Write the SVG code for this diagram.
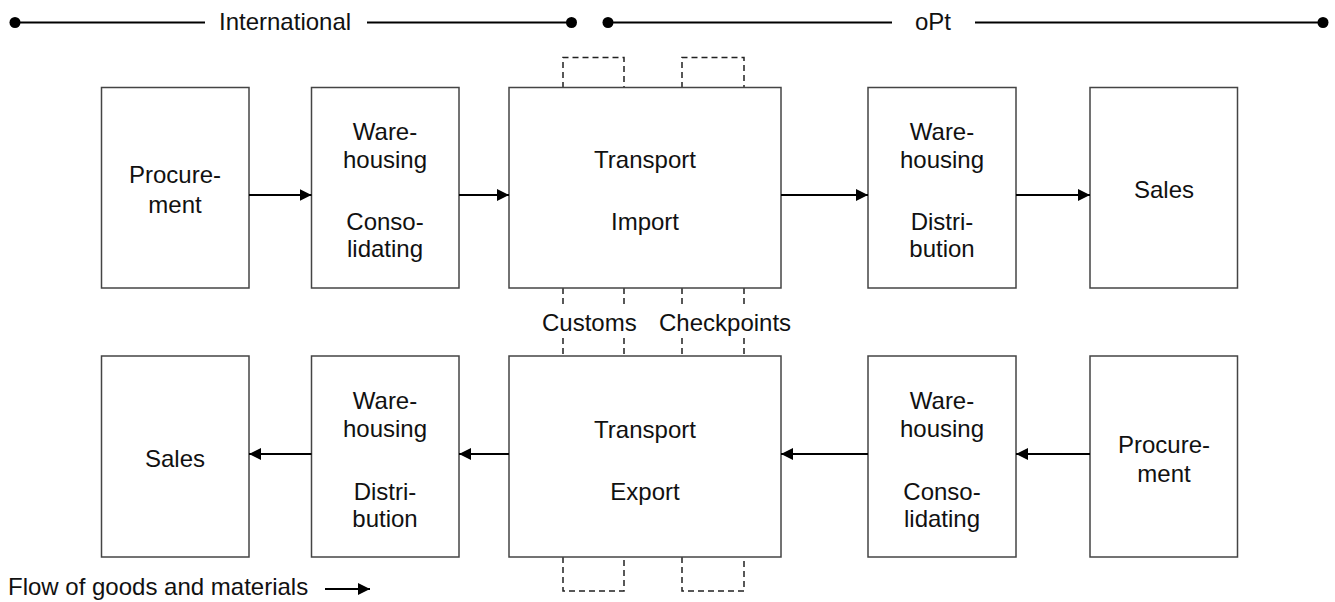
<svg xmlns="http://www.w3.org/2000/svg" width="1335" height="602" viewBox="0 0 1335 602">
<style>
  text { font-family: "Liberation Sans", Arial, sans-serif; font-size: 24px; fill: #111; }
  .c { text-anchor: middle; }
  .box { fill: #fff; stroke: #444; stroke-width: 1.5; }
  .arr { stroke: #000; stroke-width: 2; fill: none; marker-end: url(#ah); }
  .rule { stroke: #000; stroke-width: 2; fill: none; }
  .dash { stroke: #222; stroke-width: 1.5; fill: none; stroke-dasharray: 6 4; }
</style>
<defs>
  <marker id="ah" markerUnits="userSpaceOnUse" markerWidth="14" markerHeight="12" refX="12" refY="6" orient="auto">
    <path d="M0,0 L12,6 L0,12 Z" fill="#000"/>
  </marker>
</defs>
<rect width="1335" height="602" fill="#fff"/>

<g id="scope-international">
  <line class="rule" x1="15" y1="22.5" x2="205" y2="22.5"/>
  <line class="rule" x1="367" y1="22.5" x2="571" y2="22.5"/>
  <circle cx="15" cy="22.5" r="5.5" fill="#000"/>
  <circle cx="571.5" cy="22.5" r="5.5" fill="#000"/>
  <text x="219" y="30">International</text>
</g>
<g id="scope-opt">
  <line class="rule" x1="608" y1="22.5" x2="892" y2="22.5"/>
  <line class="rule" x1="975" y1="22.5" x2="1323" y2="22.5"/>
  <circle cx="608" cy="22.5" r="5.5" fill="#000"/>
  <circle cx="1323" cy="22.5" r="5.5" fill="#000"/>
  <text x="915" y="30">oPt</text>
</g>

<g id="customs">
  <path class="dash" d="M563,88 V57.5 H624 V88"/>
  <path class="dash" d="M563,288 V306 M624,288 V306 M563,338 V357 M624,338 V357"/>
  <path class="dash" d="M563,557 V591 H624 V557"/>
  <text x="542" y="331">Customs</text>
</g>
<g id="checkpoints">
  <path class="dash" d="M682,88 V57.5 H744 V88"/>
  <path class="dash" d="M682,288 V306 M744,288 V306 M682,338 V357 M744,338 V357"/>
  <path class="dash" d="M682,557 V591 H744 V557"/>
  <text x="659" y="331">Checkpoints</text>
</g>

<g id="int-procurement">
  <rect class="box" x="101.5" y="87.5" width="147.5" height="200.5"/>
  <text class="c" x="175" y="183">Procure-</text>
  <text class="c" x="175" y="213">ment</text>
</g>
<g id="int-warehousing">
  <rect class="box" x="311.5" y="87.5" width="147.5" height="200.5"/>
  <text class="c" x="385" y="140">Ware-</text>
  <text class="c" x="385" y="168">housing</text>
  <text class="c" x="385" y="230">Conso-</text>
  <text class="c" x="385" y="257">lidating</text>
</g>
<g id="transport-import">
  <rect class="box" x="509" y="87.5" width="272" height="200.5"/>
  <text class="c" x="645" y="168">Transport</text>
  <text class="c" x="645" y="230">Import</text>
</g>
<g id="opt-warehousing">
  <rect class="box" x="868" y="87.5" width="148" height="200.5"/>
  <text class="c" x="942" y="140">Ware-</text>
  <text class="c" x="942" y="168">housing</text>
  <text class="c" x="942" y="230">Distri-</text>
  <text class="c" x="942" y="257">bution</text>
</g>
<g id="opt-sales">
  <rect class="box" x="1090" y="87.5" width="147.5" height="200.5"/>
  <text class="c" x="1164" y="198">Sales</text>
</g>

<g id="int-sales">
  <rect class="box" x="101.5" y="356" width="147.5" height="201"/>
  <text class="c" x="175" y="467">Sales</text>
</g>
<g id="int-warehousing-dist">
  <rect class="box" x="311.5" y="356" width="147.5" height="201"/>
  <text class="c" x="385" y="409">Ware-</text>
  <text class="c" x="385" y="437">housing</text>
  <text class="c" x="385" y="500">Distri-</text>
  <text class="c" x="385" y="527">bution</text>
</g>
<g id="transport-export">
  <rect class="box" x="509" y="356" width="272" height="201"/>
  <text class="c" x="645" y="438">Transport</text>
  <text class="c" x="645" y="500">Export</text>
</g>
<g id="opt-warehousing-cons">
  <rect class="box" x="868" y="356" width="148" height="201"/>
  <text class="c" x="942" y="409">Ware-</text>
  <text class="c" x="942" y="437">housing</text>
  <text class="c" x="942" y="500">Conso-</text>
  <text class="c" x="942" y="527">lidating</text>
</g>
<g id="opt-procurement">
  <rect class="box" x="1090" y="356" width="147.5" height="201"/>
  <text class="c" x="1164" y="453">Procure-</text>
  <text class="c" x="1164" y="482">ment</text>
</g>

<g id="connectors">
  <line class="arr" x1="249" y1="195" x2="311.5" y2="195"/>
  <line class="arr" x1="459" y1="195" x2="509" y2="195"/>
  <line class="arr" x1="781" y1="195" x2="868" y2="195"/>
  <line class="arr" x1="1016" y1="195" x2="1090" y2="195"/>
  <line class="arr" x1="311.5" y1="454" x2="249" y2="454"/>
  <line class="arr" x1="509" y1="454" x2="459" y2="454"/>
  <line class="arr" x1="868" y1="454" x2="781" y2="454"/>
  <line class="arr" x1="1090" y1="454" x2="1016" y2="454"/>
</g>

<g id="legend">
  <text x="8" y="595">Flow of goods and materials</text>
  <line class="arr" x1="325" y1="589" x2="370" y2="589"/>
</g>
</svg>
